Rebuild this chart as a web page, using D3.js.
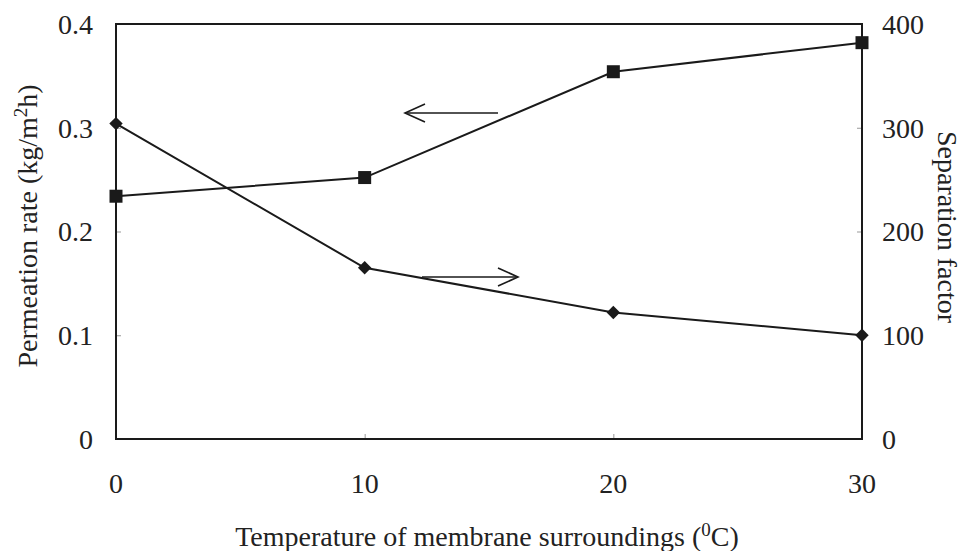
<!DOCTYPE html>
<html>
<head>
<meta charset="utf-8">
<script src="https://cdn.jsdelivr.net/npm/d3@7"></script>
<style>
  html, body { margin: 0; padding: 0; background: #fff; }
  svg { display: block; }
</style>
</head>
<body>
<svg id="chart" width="966" height="551"></svg>
<script>
// Temperature of membrane surroundings (°C)
const temperatures = [0, 10, 20, 30];
// Permeation rate (kg/m²h), left axis
const permeationRate = [0.234, 0.252, 0.354, 0.382];
// Separation factor, right axis
const separationFactor = [304, 165, 122, 100];

const xTicks = [0, 10, 20, 30];
const leftTicks = [0, 0.1, 0.2, 0.3, 0.4];
const rightTicks = [0, 100, 200, 300, 400];

const svg = d3.select("#chart")
  .attr("font-family", "'Liberation Serif', 'DejaVu Serif', serif");
const margin = { left: 116, right: 104, top: 24, bottom: 112 };
const W = 966, H = 551;
const x0 = margin.left, x1 = W - margin.right;
const y0 = H - margin.bottom, y1 = margin.top;

const x = d3.scaleLinear().domain([0, 30]).range([x0, x1]);
const yL = d3.scaleLinear().domain([0, 0.4]).range([y0, y1]);
const yR = d3.scaleLinear().domain([0, 400]).range([y0, y1]);

const fontSize = 28;
const ink = "#1a1a1a";
const textInk = "#222";

// Inward tick marks
const gL = svg.append("g").attr("transform", `translate(${x0},0)`)
  .call(d3.axisRight(yL).tickValues(leftTicks).tickSize(5).tickFormat(""));
const gR = svg.append("g").attr("transform", `translate(${x1},0)`)
  .call(d3.axisLeft(yR).tickValues(rightTicks).tickSize(5).tickFormat(""));
const gB = svg.append("g").attr("transform", `translate(0,${y0})`)
  .call(d3.axisTop(x).tickValues(xTicks).tickSize(5).tickFormat(""));
[gL, gR, gB].forEach(g => {
  g.attr("font-family", null);
  g.select(".domain").remove();
  g.selectAll(".tick line").attr("stroke", "#999").attr("stroke-width", 1);
});

// Plot frame
svg.append("rect")
  .attr("x", x0).attr("y", y1)
  .attr("width", x1 - x0).attr("height", y0 - y1)
  .attr("fill", "none").attr("stroke", ink).attr("stroke-width", 2);

// Tick labels
svg.append("g").selectAll("text").data(leftTicks).join("text")
  .attr("x", x0 - 23).attr("y", d => yL(d)).attr("dy", "0.35em")
  .attr("text-anchor", "end").attr("font-size", fontSize).attr("fill", textInk)
  .text(d => d === 0 ? "0" : d3.format(".1f")(d));
svg.append("g").selectAll("text").data(rightTicks).join("text")
  .attr("x", x1 + 20).attr("y", d => yR(d)).attr("dy", "0.35em")
  .attr("text-anchor", "start").attr("font-size", fontSize).attr("fill", textInk)
  .text(d => d);
svg.append("g").selectAll("text").data(xTicks).join("text")
  .attr("x", d => x(d)).attr("y", 493)
  .attr("text-anchor", "middle").attr("font-size", fontSize).attr("fill", textInk)
  .text(d => d);

// Axis titles
const tL = svg.append("text")
  .attr("transform", "translate(37,226) rotate(-90)")
  .attr("text-anchor", "middle").attr("font-size", fontSize).attr("fill", textInk);
tL.append("tspan").text("Permeation rate (kg/m");
tL.append("tspan").attr("dy", -10).attr("font-size", 19).text("2");
tL.append("tspan").attr("dy", 10).text("h)");

svg.append("text")
  .attr("transform", "translate(938,227) rotate(90)")
  .attr("text-anchor", "middle").attr("font-size", fontSize).attr("fill", textInk)
  .text("Separation factor");

const tB = svg.append("text")
  .attr("x", 487).attr("y", 546)
  .attr("text-anchor", "middle").attr("font-size", fontSize).attr("fill", textInk);
tB.append("tspan").text("Temperature of membrane surroundings (");
tB.append("tspan").attr("dy", -10).attr("font-size", 19).text("0");
tB.append("tspan").attr("dy", 10).text("C)");

// Series lines
const lineL = d3.line().x((d, i) => x(temperatures[i])).y(d => yL(d));
const lineR = d3.line().x((d, i) => x(temperatures[i])).y(d => yR(d));

svg.append("path").datum(permeationRate)
  .attr("d", lineL).attr("fill", "none").attr("stroke", ink).attr("stroke-width", 2);
svg.append("path").datum(separationFactor)
  .attr("d", lineR).attr("fill", "none").attr("stroke", ink).attr("stroke-width", 2);

// Markers
svg.append("g").selectAll("path").data(permeationRate).join("path")
  .attr("transform", (d, i) => `translate(${x(temperatures[i])},${yL(d)})`)
  .attr("d", d3.symbol(d3.symbolSquare, 169))
  .attr("fill", ink);
svg.append("g").selectAll("path").data(separationFactor).join("path")
  .attr("transform", (d, i) => `translate(${x(temperatures[i])},${yR(d)}) rotate(45)`)
  .attr("d", d3.symbol(d3.symbolSquare, 90))
  .attr("fill", ink);

// Arrows indicating which axis each curve belongs to
function arrow(xa, xb, yv) {
  const dir = Math.sign(xb - xa);
  const g = svg.append("g").attr("fill", "none").attr("stroke", ink).attr("stroke-width", 1.6);
  g.append("line").attr("x1", xa).attr("y1", yv).attr("x2", xb).attr("y2", yv);
  g.append("polyline")
    .attr("points", `${xb - dir * 20},${yv - 9} ${xb},${yv} ${xb - dir * 20},${yv + 9}`);
}
arrow(498, 405, 113);
arrow(422, 518, 277);
</script>
</body>
</html>
